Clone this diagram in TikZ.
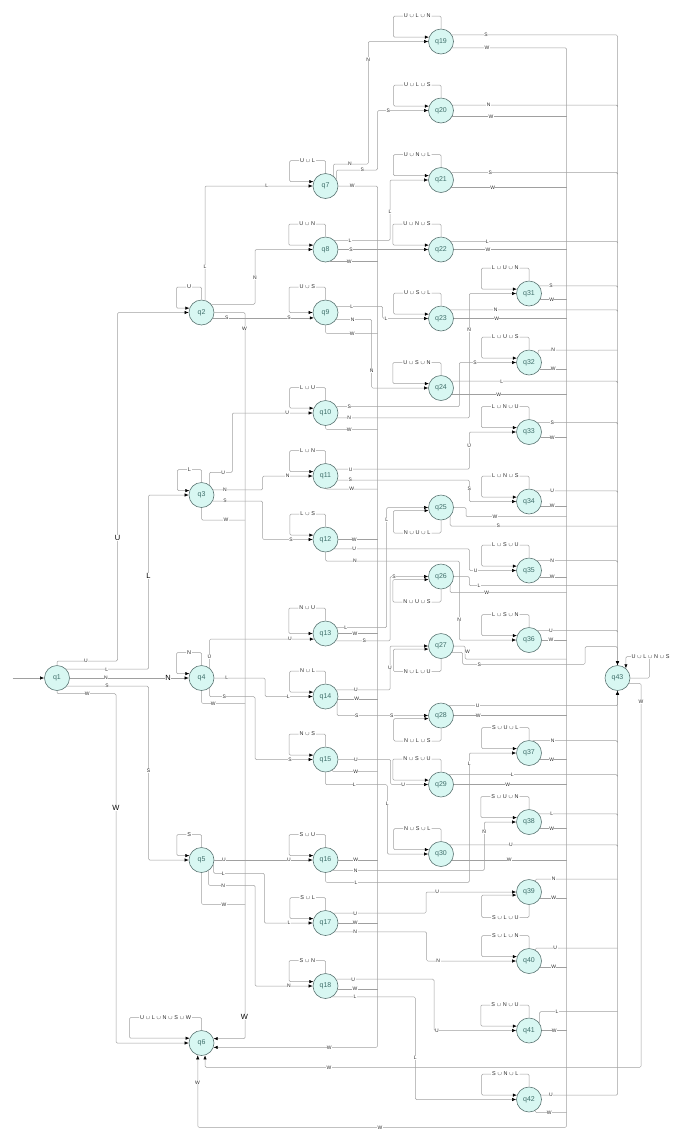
\documentclass[tikz,border=0pt]{standalone}
\usepackage{fontspec}
\setmainfont{Liberation Sans}
\usetikzlibrary{arrows.meta,calc}
\definecolor{nfill}{HTML}{D8F7F2}
\definecolor{nbord}{HTML}{5E7775}
\definecolor{ntext}{HTML}{3F6E6A}
\definecolor{lgray}{HTML}{A0A0A0}
\definecolor{ltext}{HTML}{2A2A2A}
\newcommand\cupx{$\cup$}
\newcounter{labc}
\newcommand\el[2]{\stepcounter{labc}\node[lb] (lab\thelabc) at (#1) {#2};}
\newcommand\bl[2]{\stepcounter{labc}\node[blb] (lab\thelabc) at (#1) {#2};}
\newcommand\uloop[3]{%
  \node[ll, anchor=east] (#1L) at ($(#1.center)+(-9.5,-25.5)$) {#2};
  \draw[e] (#1.north) |- (#1L.east);
  \draw[a] (#1L.west) -- ++(-9.5,0) |- (#1.#3);}
\newcommand\dloop[2]{%
  \node[ll, anchor=east] (#1L) at ($(#1.center)+(-9.5,25.5)$) {#2};
  \draw[e] (#1.south) |- (#1L.east);
  \draw[a] (#1L.west) -- ++(-9.5,0) |- (#1.194);}
\tikzset{
  st/.style={circle, draw=nbord, fill=nfill, line width=0.6pt, minimum size=25pt, inner sep=0pt, font=\fontsize{7}{8}\selectfont, text=ntext},
  e/.style={draw=lgray, line width=0.5pt, rounded corners=1.2pt},
  a/.style={e, -{Latex[length=4pt,width=3.2pt,color=black]}},
  lb/.style={fill=white, inner sep=0.4pt, font=\fontsize{5}{6}\selectfont, text=ltext},
  blb/.style={fill=white, inner sep=0.6pt, font=\fontsize{7.5}{8}\selectfont, text=black},
  ll/.style={inner xsep=0.8pt, inner ysep=0.5pt, font=\fontsize{5.5}{6}\selectfont, text=ltext}
}
\begin{document}
\begin{tikzpicture}[x=1pt,y=-1pt]
\useasboundingbox (0,0) rectangle (680,1144);
\coordinate (init) at (12.5,678);
\coordinate (B2) at (377.5,0);
\coordinate (B3) at (566.5,0);
% states
\node[st] (q1) at (57,678) {q1};
\node[st] (q2) at (201.5,312.5) {q2};
\node[st] (q3) at (201.5,495) {q3};
\node[st] (q4) at (201.5,678) {q4};
\node[st] (q5) at (201.5,860) {q5};
\node[st] (q6) at (201.5,1043) {q6};
\node[st] (q7) at (325.5,186) {q7};
\node[st] (q8) at (325.5,249.5) {q8};
\node[st] (q9) at (325.5,312.5) {q9};
\node[st] (q10) at (325.5,413) {q10};
\node[st] (q11) at (325.5,476) {q11};
\node[st] (q12) at (325.5,539.5) {q12};
\node[st] (q13) at (325.5,633.5) {q13};
\node[st] (q14) at (325.5,696.5) {q14};
\node[st] (q15) at (325.5,759.5) {q15};
\node[st] (q16) at (325.5,860) {q16};
\node[st] (q17) at (325.5,923) {q17};
\node[st] (q18) at (325.5,986) {q18};
\node[st] (q19) at (441,41.5) {q19};
\node[st] (q20) at (441,110.5) {q20};
\node[st] (q21) at (441,180) {q21};
\node[st] (q22) at (441,249.5) {q22};
\node[st] (q23) at (441,318.5) {q23};
\node[st] (q24) at (441,388) {q24};
\node[st] (q25) at (441,507.5) {q25};
\node[st] (q26) at (441,576.5) {q26};
\node[st] (q27) at (441,646) {q27};
\node[st] (q28) at (441,715.5) {q28};
\node[st] (q29) at (441,784.5) {q29};
\node[st] (q30) at (441,854) {q30};
\node[st] (q31) at (529,293.5) {q31};
\node[st] (q32) at (529,362.5) {q32};
\node[st] (q33) at (529,432) {q33};
\node[st] (q34) at (529,501.5) {q34};
\node[st] (q35) at (529,570.5) {q35};
\node[st] (q36) at (529,640) {q36};
\node[st] (q37) at (529,753) {q37};
\node[st] (q38) at (529,822) {q38};
\node[st] (q39) at (529,892) {q39};
\node[st] (q40) at (529,961) {q40};
\node[st] (q41) at (529,1030.5) {q41};
\node[st] (q42) at (529,1099.5) {q42};
\node[st] (q43) at (617.5,678) {q43};
% q1
\draw[a] (init) -- (q1.west);
\draw[a] (q1.north) |- (117.5,661) |- (q2.west);
\draw[a] (q1.44) -| (148.5,495) -- (q3.west);
\draw[a] (q1.east) -- (q4.west);
\draw[a] (q1.-40) -| (148.5,860) -- (q5.west);
\draw[a] (q1.south) |- (116,693.7) |- (q6.west);
% q2
\uloop{q2}{U}{160}
\draw[a] (q2.74) |- (q7.west);
\draw[a] (q2.40) -| (255,249.5) -- (q8.west);
\draw[a] (q2.-25) -- (q9.205);
\draw[a] (q2.east) -| (245,1038.7) -- (q6.20);
% q3
\uloop{q3}{L}{160}
\draw[a] (q3.51) |- (232.3,472.3) |- (q10.west);
\draw[a] (q3.24) -| (262.7,476) -- (q11.west);
\draw[a] (q3.-29) -| (262.7,539.5) -- (q12.west);
\draw[e] (q3.south) |- (245,520);
% q4
\uloop{q4}{N}{160}
\draw[a] (q4.51) |- (q13.206);
\draw[a] (q4.east) -| (265,696.5) -- (q14.west);
\draw[a] (q4.-51) |- (255,696.7) |- (q15.west);
\draw[e] (q4.south) |- (245,703.3);
% q5
\uloop{q5}{S}{160}
\draw[a] (q5.east) -- (q16.west);
\draw[a] (q5.-20) |- (264.3,873.3) |- (q17.west);
\draw[a] (q5.-57) |- (255,885.3) |- (q18.west);
\draw[e] (q5.south) |- (245,904.3);
% q6
\uloop{q6}{U \cupx{} L \cupx{} N \cupx{} S \cupx{} W}{158}
% q7
\uloop{q7}{U \cupx{} L}{160}
\draw[a] (q7.51) |- (368.3,164) |- (q19.west);
\draw[a] (q7.30) |- (377.5,170) |- (q20.west);
\draw[a] (q7.east) -| (377.5,1047.3) -- (q6.-20);
% q8
\uloop{q8}{U \cupx{} N}{160}
\draw[a] (q8.45) -| (390,180) -- (q21.west);
\draw[a] (q8.east) -- (q22.west);
\draw[e] (q8.-70) -- (q8.-70 -| B2);
% q9
\uloop{q9}{U \cupx{} S}{180}
\draw[a] (q9.28) -| (382.7,318.5) -- (q23.west);
\draw[a] (q9.-33) -| (371.7,388) -- (q24.west);
\draw[e] (q9.south) |- (377.5,333.3);
% q10
\uloop{q10}{L \cupx{} U}{158}
\draw[a] (q10.30) -| (459.3,362.5) -- (q32.west);
\draw[a] (q10.-22) -| (469.3,293.5) -- (q31.west);
\draw[e] (q10.south) |- (377.5,429.3);
% q11
\uloop{q11}{L \cupx{} N}{160}
\draw[a] (q11.32) -| (469.3,432) -- (q33.west);
\draw[a] (q11.-19) -| (469.3,501.5) -- (q34.west);
\draw[e] (q11.south) |- (377.5,489);
% q12
\uloop{q12}{L \cupx{} S}{160}
\draw[e] (q12.east) -- (q12.east -| B2);
\draw[a] (q12.-47) -| (469.3,570.5) -- (q35.west);
\draw[a] (q12.south) |- (459.3,561) |- (q36.west);
% q13
\uloop{q13}{N \cupx{} U}{180}
\draw[a] (q13.28) -| (386.7,507.5) -- (q25.west);
\draw[e] (q13.east) -- (q13.east -| B2);
\draw[a] (q13.-35) -| (390,576.5) -- (q26.west);
% q14
\uloop{q14}{N \cupx{} L}{160}
\draw[a] (q14.31) -| (390,646) -- (q27.west);
\draw[e] (q14.-12) -- (q14.-12 -| B2);
\draw[a] (q14.-26) |- (q28.west);
% q15
\uloop{q15}{N \cupx{} S}{160}
\draw[a] (q15.east) -| (390.7,784.5) -- (q29.west);
\draw[e] (q15.-60) |- (377.5,771.3);
\draw[a] (q15.south) |- (387.3,784.7) |- (q30.west);
% q16
\uloop{q16}{S \cupx{} U}{160}
\draw[e] (q16.east) -- (q16.east -| B2);
\draw[a] (q16.-55) -| (484.3,822) -- (q38.west);
\draw[a] (q16.south) |- (469.3,882.3) |- (q37.west);
% q17
\uloop{q17}{S \cupx{} L}{160}
\draw[a] (q17.51) -| (426,892) -- (q39.west);
\draw[e] (q17.east) -- (q17.east -| B2);
\draw[a] (q17.-44) -| (426.7,961) -- (q40.west);
% q18
\uloop{q18}{S \cupx{} N}{160}
\draw[a] (q18.32) -| (434,1030.5) -- (q41.west);
\draw[e] (q18.-15) -- (q18.-15 -| B2);
\draw[a] (q18.-59) -| (415.3,1099.5) -- (q42.west);
% level 3
\uloop{q19}{U \cupx{} L \cupx{} N}{160}
\draw[a] (q19.31) -| (q43.north);
\draw[a] (q19.-30) -| (566.5,1127.3) -| (q6.-107);
\uloop{q20}{U \cupx{} L \cupx{} S}{160}
\draw[e] (q20.25) -| (617.5,105.2);
\draw[e] (q20.-28) -- (q20.-28 -| B3);
\uloop{q21}{U \cupx{} N \cupx{} L}{160}
\draw[e] (q21.36) -| (617.5,172.6);
\draw[e] (q21.-36) -- (q21.-36 -| B3);
\uloop{q22}{U \cupx{} N \cupx{} S}{160}
\draw[e] (q22.39) -| (617.5,241.6);
\draw[e] (q22.east) -- (q22.east -| B3);
\uloop{q23}{U \cupx{} S \cupx{} L}{160}
\draw[e] (q23.43) -| (617.5,310);
\draw[e] (q23.east) -- (q23.east -| B3);
\uloop{q24}{U \cupx{} S \cupx{} N}{160}
\draw[e] (q24.32) -| (617.5,381.4);
\draw[e] (q24.-30) -- (q24.-30 -| B3);
\dloop{q25}{N \cupx{} U \cupx{} L}
\draw[e] (q25.east) -| (466,516.7) -- (566.5,516.7);
\draw[e] (q25.-44) |- (617.5,526);
\dloop{q26}{N \cupx{} U \cupx{} S}
\draw[e] (q26.east) -| (469.3,585.7) -- (617.5,585.7);
\draw[e] (q26.-44) |- (566.5,592.7);
\dloop{q27}{N \cupx{} L \cupx{} U}
\draw[e] (q27.east) -| (465,659) -- (566.5,659);
\draw[a] (q27.-30) -| (462.7,664.3) -| (585,646.7) -| (q43.north);
\dloop{q28}{N \cupx{} L \cupx{} S}
\draw[a] (q28.50) -| (q43.south);
\draw[e] (q28.east) -- (q28.east -| B3);
\uloop{q29}{N \cupx{} S \cupx{} U}{160}
\draw[e] (q29.50) -| (617.5,774.9);
\draw[e] (q29.east) -- (q29.east -| B3);
\uloop{q30}{N \cupx{} S \cupx{} L}{160}
\draw[e] (q30.46) -| (617.5,845);
\draw[e] (q30.-29) -- (q30.-29 -| B3);
\uloop{q31}{L \cupx{} U \cupx{} N}{160}
\draw[e] (q31.37) -| (617.5,286);
\draw[e] (q31.-28) -- (q31.-28 -| B3);
\uloop{q32}{L \cupx{} U \cupx{} S}{160}
\draw[e] (q32.45) |- (617.5,350);
\draw[e] (q32.-31) -- (q32.-31 -| B3);
\uloop{q33}{L \cupx{} N \cupx{} U}{160}
\draw[e] (q33.48) -| (617.5,422.7);
\draw[e] (q33.-25) -- (q33.-25 -| B3);
\uloop{q34}{L \cupx{} N \cupx{} S}{160}
\draw[e] (q34.57) -| (617.5,491);
\draw[e] (q34.-21) -- (q34.-21 -| B3);
\uloop{q35}{L \cupx{} S \cupx{} U}{160}
\draw[e] (q35.50) -| (617.5,560.9);
\draw[e] (q35.-30) -- (q35.-30 -| B3);
\uloop{q36}{L \cupx{} S \cupx{} N}{160}
\draw[e] (q36.48) -| (617.5,630.7);
\draw[e] (q36.east) -- (q36.east -| B3);
\uloop{q37}{S \cupx{} U \cupx{} L}{160}
\draw[e] (q37.74) -| (617.5,741);
\draw[e] (q37.-30) -- (q37.-30 -| B3);
\uloop{q38}{S \cupx{} U \cupx{} N}{160}
\draw[e] (q38.40) -| (617.5,814);
\draw[e] (q38.-30) -- (q38.-30 -| B3);
\dloop{q39}{S \cupx{} L \cupx{} U}
\draw[e] (q39.60) |- (617.5,879);
\draw[e] (q39.-27) -- (q39.-27 -| B3);
\uloop{q40}{S \cupx{} L \cupx{} N}{160}
\draw[e] (q40.60) |- (617.5,948);
\draw[e] (q40.-27) -- (q40.-27 -| B3);
\uloop{q41}{S \cupx{} N \cupx{} U}{160}
\draw[e] (q41.35) |- (617.5,1011.7);
\draw[e] (q41.east) -- (q41.east -| B3);
\uloop{q42}{S \cupx{} N \cupx{} L}{160}
\draw[a] (q42.20) -| (q43.south);
\draw[e] (q42.-60) |- (566.5,1112.7);
% q43
\draw[a] (q43.east) -| (649.3,656.7) -| (q43.49);
\node[ll, fill=white, anchor=west] (q43L) at (630.5,656.7) {U \cupx{} L \cupx{} N \cupx{} S};
\draw[a] (q43.-25) -| (641,1067.3) -| (q6.-74);
% labels
\el{86,661}{U} \el{106.7,669.3}{L} \el{106,678}{N} \el{107,686}{S} \el{87.3,693.7}{W} \el{148.5,771}{S}
\bl{117.5,538}{U} \bl{148.5,576}{L} \bl{168,678}{N} \bl{116,808}{W}
\el{205,266.7}{L} \el{266.7,186}{L} \el{255,277.7}{N} \el{226.7,317.8}{S} \el{289,317.8}{S} \el{244.5,328.3}{W} \bl{244.5,1016.7}{W}
\el{223.3,472.3}{U} \el{287.3,413}{U} \el{225,490}{N} \el{287.7,476}{N} \el{225,501}{S} \el{291,539.5}{S} \el{226,520}{W}
\el{209.4,656.7}{U} \el{290,639}{U} \el{226.7,678}{L} \el{288.3,696.5}{L} \el{224.3,696.7}{S} \el{290,759.5}{S} \el{213.3,703.3}{W}
\el{224,860}{U} \el{289,860}{U} \el{223.3,873.3}{L} \el{289,923}{L} \el{223.3,885.3}{N} \el{289,986}{N} \el{224,904.3}{W}
\el{350,164}{N} \el{368.3,59.3}{N} \el{362.3,170}{S} \el{388.3,110.5}{S} \el{352.3,186}{W} \el{329.3,1047.3}{W}
\el{350,240.7}{L} \el{390,212}{L} \el{351,249.5}{S} \el{349.3,261.3}{W}
\el{351.7,306.6}{L} \el{386,318.5}{L} \el{352.7,319.3}{N} \el{371.7,370.7}{N} \el{352.3,333.3}{W}
\el{349.3,406.7}{S} \el{475,362.5}{S} \el{349.3,417.7}{N} \el{469.3,330}{N} \el{349.3,429.3}{W}
\el{350.7,469.3}{U} \el{469.3,446}{U} \el{350.3,480}{S} \el{469.3,488.3}{S} \el{351.7,489}{W}
\el{354.3,539.5}{W} \el{354.3,548.7}{U} \el{475.7,570.5}{U} \el{355,561}{N} \el{459.3,619.3}{N}
\el{345.7,627.6}{L} \el{386.7,520}{L} \el{355,633.5}{W} \el{364.3,640.7}{S} \el{394,576.5}{S}
\el{356,690}{U} \el{390,667.3}{U} \el{356.7,699}{W} \el{356.7,715.5}{S} \el{391.7,715.5}{S}
\el{356,759.5}{U} \el{403.3,784.5}{U} \el{355.7,771.3}{W} \el{354.3,784.7}{L} \el{387.3,803.3}{L}
\el{355.7,860}{W} \el{355.7,870.3}{N} \el{484.3,831.7}{N} \el{356,882.3}{L} \el{469.3,763.3}{L}
\el{355.3,913.3}{U} \el{437.3,892}{U} \el{355.3,923}{W} \el{355.3,931.7}{N} \el{438.3,961}{N}
\el{353.3,979.4}{U} \el{437,1030.5}{U} \el{355,989.2}{W} \el{355,996.7}{L} \el{415.3,1057.7}{L}
\el{486,35}{S} \el{487,47.7}{W} \el{380,1127.3}{W} \el{197.5,1082.3}{W}
\el{488.7,105.2}{N} \el{491,116.4}{W}
\el{490.3,172.7}{S} \el{492.7,187.3}{W}
\el{487.3,241.6}{L} \el{488,249.5}{W}
\el{495.7,310}{N} \el{496.7,318.5}{W}
\el{501.7,381.4}{L} \el{498.7,394.3}{W}
\el{495,516.7}{W} \el{498.3,526}{S}
\el{479,585.7}{L} \el{486.7,592.7}{W}
\el{467.5,652}{W} \el{479.3,664.3}{S}
\el{477.7,706}{U} \el{478.3,715.5}{W}
\el{512.3,775}{L} \el{507.7,784.5}{W}
\el{511,845}{U} \el{509.3,860}{W}
\el{551,286}{S} \el{551.7,299.4}{W}
\el{553.3,350}{N} \el{553.3,369}{W}
\el{552.3,422.7}{S} \el{552.3,437.3}{W}
\el{552.3,491}{U} \el{552.3,506}{W}
\el{552.3,561}{N} \el{552.3,576.7}{W}
\el{551,630.7}{U} \el{551,640}{W}
\el{552.7,741}{N} \el{551.7,759.3}{W}
\el{551.7,814}{L} \el{551.7,828.3}{W}
\el{553.7,879}{N} \el{553.7,897.7}{W}
\el{555.3,948}{U} \el{553.7,966.7}{W}
\el{557,1011.7}{L} \el{554.3,1030.5}{W}
\el{551,1095.2}{U} \el{549.3,1112.7}{W}
\el{641,701.7}{W} \el{329,1067.3}{W}
\end{tikzpicture}
\end{document}
